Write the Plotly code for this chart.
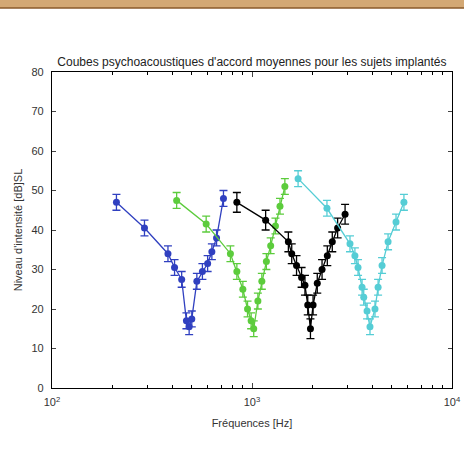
import plotly.graph_objects as go

# Mean pitch-matching curves (frequency in Hz, level in dB SL, +/- error)
freq_blue = [210, 290, 380, 410, 445, 470, 485, 500, 530, 565, 600, 630, 665, 720]
level_blue = [47, 40.5, 34, 30.5, 27.5, 17, 15.5, 17.5, 27, 29.5, 31.5, 34.5, 38, 48]
err_blue = [2, 2, 2, 2, 2, 2, 2, 2, 2, 2, 2, 2, 2, 2]

freq_green = [420, 590, 780, 840, 900, 950, 990, 1020, 1070, 1120, 1180, 1240, 1310, 1380, 1460]
level_green = [47.5, 41.5, 34, 29.5, 25, 20, 17, 15, 22, 27, 32, 36, 41, 46, 51]
err_green = [2, 2, 2, 2, 2, 2, 2, 2, 2, 2, 2, 2, 2, 2, 2]

freq_black = [840, 1170, 1520, 1580, 1670, 1770, 1840, 1900, 1960, 2020, 2120, 2240, 2380, 2520, 2680, 2920]
level_black = [47, 42.5, 37, 34, 31, 28, 26, 21, 15, 21, 26.5, 30, 33.5, 37, 40.5, 44]
err_black = [2.5, 2.5, 2.5, 2.5, 2.5, 2.5, 2.5, 2.5, 2.5, 2.5, 2.5, 2.5, 2.5, 2.5, 2.5, 2.5]

freq_cyan = [1700, 2370, 3090, 3270, 3390, 3550, 3620, 3760, 3890, 4120, 4270, 4470, 4790, 5250, 5750]
level_cyan = [53, 45.5, 36.5, 33.5, 30.5, 25.5, 23, 19.5, 15.5, 20, 25.5, 31, 37, 42, 47]
err_cyan = [2, 2, 2, 2, 2, 2, 2, 2, 2, 2, 2, 2, 2, 2, 2]

y_ticks = [0, 10, 20, 30, 40, 50, 60, 70, 80]
x_tickvals = [100, 1000, 10000]
x_ticktext = ["10<sup>2</sup>", "10<sup>3</sup>", "10<sup>4</sup>"]
x_minor = [m * d for d in (100, 1000) for m in range(2, 10)]

series = [
    (freq_blue, level_blue, err_blue, "#3040c0"),
    (freq_green, level_green, err_green, "#5ccc3c"),
    (freq_black, level_black, err_black, "#000000"),
    (freq_cyan, level_cyan, err_cyan, "#55cdd5"),
]

fig = go.Figure()
for f, v, e, col in series:
    fig.add_trace(go.Scatter(
        x=f, y=v, mode="lines+markers",
        line=dict(color=col, width=1.3),
        marker=dict(color=col, size=7),
        error_y=dict(type="data", array=e, color=col, thickness=1.3, width=4),
        showlegend=False,
    ))

axis_font = dict(family="Liberation Sans, Arial", size=11, color="#333333")

fig.update_layout(
    width=464, height=451,
    margin=dict(l=52, r=12, t=72, b=63),
    paper_bgcolor="white", plot_bgcolor="white",
    title=dict(
        text="Coubes psychoacoustiques d'accord moyennes pour les sujets implantés",
        x=0.543, xanchor="center", y=0.862, yanchor="middle",
        font=dict(family="Liberation Sans, Arial", size=12, color="#222222"),
    ),
    xaxis=dict(
        type="log", range=[2, 4], automargin=False,
        tickvals=x_tickvals, ticktext=x_ticktext,
        ticks="inside", ticklen=5, mirror="allticks",
        showline=True, linecolor="black", linewidth=1.2,
        showgrid=False, zeroline=False,
        minor=dict(tickvals=x_minor, ticks="inside", ticklen=3,
                   tickcolor="black", showgrid=False),
        tickfont=axis_font, ticklabelstandoff=4,
        title=dict(text="Fréquences [Hz]", font=axis_font, standoff=12),
    ),
    yaxis=dict(
        range=[0, 80], tickvals=y_ticks, automargin=False,
        ticks="inside", ticklen=4, mirror="allticks",
        showline=True, linecolor="black", linewidth=1.2,
        showgrid=False, zeroline=False,
        tickfont=axis_font, ticklabelstandoff=5,
        title=dict(text="Niveau d'intensité [dB]SL", font=axis_font, standoff=6),
    ),
    shapes=[
        dict(type="rect", xref="paper", yref="paper",
             x0=-0.2, x1=1.1, y0=1.0 + 64 / 316, y1=1.0 + 80 / 316,
             fillcolor="#d3a874", line=dict(width=0), layer="above"),
        dict(type="line", xref="paper", yref="paper",
             x0=-0.2, x1=1.1, y0=1.0 + 64 / 316, y1=1.0 + 64 / 316,
             line=dict(color="#8a5a2a", width=1.5)),
    ],
)

fig.write_html("out.html")
